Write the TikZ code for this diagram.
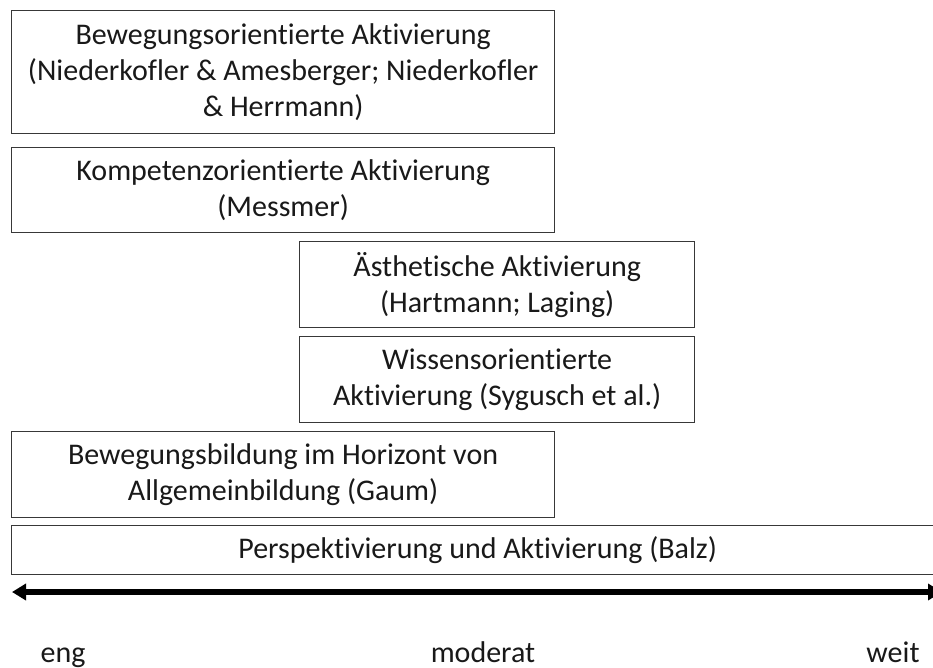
\documentclass[tikz,border=0pt]{standalone}
\usepackage{fontspec}
\setmainfont{Carlito}[Ligatures=NoCommon]
\usetikzlibrary{arrows.meta}
\begin{document}
\begin{tikzpicture}[x=1pt,y=-1pt,
  box/.style={draw=black!78, line width=1.3pt, inner sep=0pt, anchor=north west, align=center,
    font=\fontsize{30}{36}\selectfont, text=black!90},
  lbl/.style={anchor=base, font=\fontsize{30}{36}\selectfont, text=black!90},
  axis/.style={line width=6pt, {Triangle[length=14pt,width=16pt]}-{Triangle[length=14pt,width=16pt]}}]
\useasboundingbox[fill=white] (0,0) rectangle (933,668);
\begin{scope}
\clip (0,0) rectangle (933,668);
% stacked approach boxes
\node[box, minimum width=543pt, minimum height=123pt] (bew) at (11,10)
  {Bewegungsorientierte Aktivierung\\(Niederkofler \& Amesberger; Niederkofler\\\& Herrmann)};
\node[box, minimum width=543pt, minimum height=85pt] (kom) at (11,147)
  {Kompetenzorientierte Aktivierung\\(Messmer)};
\node[box, minimum width=395pt, minimum height=86pt] (aes) at (299,241)
  {Ästhetische Aktivierung\\(Hartmann; Laging)};
\node[box, minimum width=395pt, minimum height=86pt] (wis) at (299,336)
  {Wissensorientierte\\Aktivierung (Sygusch et al.)};
\node[box, minimum width=543pt, minimum height=86pt] (bil) at (11,431)
  {Bewegungsbildung im Horizont von\\Allgemeinbildung (Gaum)};
\node[box, minimum width=932pt, minimum height=49pt] (bal) at (11,525)
  {Perspektivierung und Aktivierung (Balz)};
% scale from narrow to wide
\coordinate (lend) at (12,592);
\coordinate (rend) at (942,592);
\draw[axis] (lend) -- (rend);
\end{scope}
\node[lbl] (eng) at (63,662) {eng};
\node[lbl] (mod) at (483,662) {moderat};
\node[lbl] (weit) at (893,662) {weit};
\end{tikzpicture}
\end{document}
